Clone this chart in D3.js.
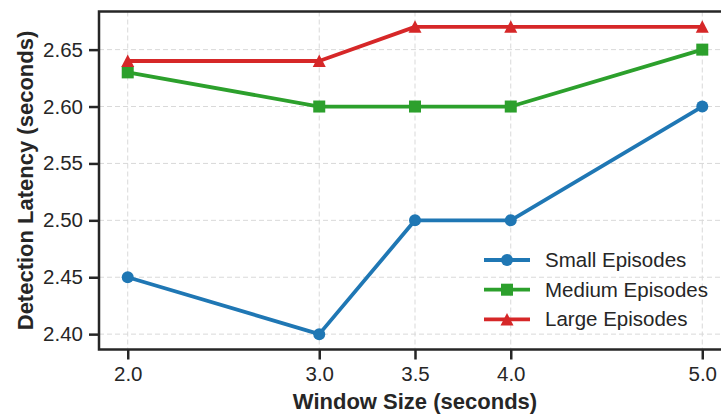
<!DOCTYPE html>
<html>
<head>
<meta charset="utf-8">
<script src="https://cdn.jsdelivr.net/npm/d3@7"></script>
<style>
  body { margin: 0; background: #fff; }
  text { font-family: "Liberation Sans", Arial, sans-serif; fill: #262626; }
</style>
</head>
<body>
<svg id="chart" width="721" height="414"></svg>
<script>
// data
const windowSizes = [2.0, 3.0, 3.5, 4.0, 5.0]
const smallEpisodes = [2.45, 2.40, 2.50, 2.50, 2.60]
const mediumEpisodes = [2.63, 2.60, 2.60, 2.60, 2.65]
const largeEpisodes = [2.64, 2.64, 2.67, 2.67, 2.67]
const yTicks = [2.40, 2.45, 2.50, 2.55, 2.60, 2.65]
const xTicks = [2.0, 3.0, 3.5, 4.0, 5.0]

const series = [
    { name: "Small Episodes", values: smallEpisodes, color: "#1f77b4", marker: "circle" },
    { name: "Medium Episodes", values: mediumEpisodes, color: "#2ca02c", marker: "square" },
    { name: "Large Episodes", values: largeEpisodes, color: "#d62728", marker: "triangle" }
]

var svg = d3.select("#chart")

var plotLeft = 99, plotRight = 731, plotTop = 11.5, plotBottom = 349.5

var x = d3.scaleLinear().domain([1.85, 5.15]).range([plotLeft, plotRight])
var y = d3.scaleLinear().domain([2.3865, 2.6835]).range([plotBottom, plotTop])

// grid
var grid = svg.append("g")
grid.selectAll(".gx").data(xTicks).enter().append("line")
    .attr("x1", d => x(d)).attr("x2", d => x(d))
    .attr("y1", plotTop).attr("y2", plotBottom)
    .attr("stroke", "#d9d9d9").attr("stroke-width", 1).attr("stroke-dasharray", "5,3")
grid.selectAll(".gy").data(yTicks).enter().append("line")
    .attr("x1", plotLeft).attr("x2", plotRight)
    .attr("y1", d => y(d)).attr("y2", d => y(d))
    .attr("stroke", "#d9d9d9").attr("stroke-width", 1).attr("stroke-dasharray", "5,3")

// axes
var xAxis = svg.append("g")
    .attr("transform", "translate(0," + plotBottom + ")")
    .call(d3.axisBottom(x).tickValues(xTicks).tickFormat(d3.format(".1f")).tickSizeOuter(0).tickSize(10).tickPadding(7))
var yAxis = svg.append("g")
    .attr("transform", "translate(" + plotLeft + ",0)")
    .call(d3.axisLeft(y).tickValues(yTicks).tickFormat(d3.format(".2f")).tickSizeOuter(0).tickSize(10).tickPadding(6))

;[xAxis, yAxis].forEach(a => {
    a.select(".domain").remove()
    a.selectAll(".tick line").attr("stroke", "#262626").attr("stroke-width", 2.5)
    a.selectAll(".tick text").attr("font-size", 20.5).attr("fill", "#262626")
        .style("font-family", "'Liberation Sans', Arial, sans-serif")
})

// spines
svg.append("rect")
    .attr("x", plotLeft).attr("y", plotTop)
    .attr("width", plotRight - plotLeft).attr("height", plotBottom - plotTop)
    .attr("fill", "none").attr("stroke", "#262626").attr("stroke-width", 2.5)

// lines and markers
var line = d3.line()
    .x((d, i) => x(windowSizes[i]))
    .y(d => y(d))

function drawMarker(g, type, cx, cy, color) {
    if (type == "circle") {
        g.append("circle").attr("cx", cx).attr("cy", cy).attr("r", 6).attr("fill", color)
    } else if (type == "square") {
        g.append("rect").attr("x", cx - 6).attr("y", cy - 6).attr("width", 12).attr("height", 12).attr("fill", color)
    } else {
        g.append("path")
            .attr("d", "M" + cx + "," + (cy - 6.5) + "L" + (cx - 6.5) + "," + (cy + 6) + "L" + (cx + 6.5) + "," + (cy + 6) + "Z")
            .attr("fill", color)
    }
}

series.forEach(s => {
    var g = svg.append("g")
    g.append("path")
        .datum(s.values)
        .attr("d", line)
        .attr("fill", "none")
        .attr("stroke", s.color)
        .attr("stroke-width", 3.8)
        .attr("stroke-linejoin", "round")
    s.values.forEach((v, i) => drawMarker(g, s.marker, x(windowSizes[i]), y(v), s.color))
})

// axis labels
svg.append("text")
    .attr("x", 415).attr("y", 409)
    .attr("text-anchor", "middle")
    .attr("font-size", 22).attr("font-weight", "bold")
    .text("Window Size (seconds)")

svg.append("text")
    .attr("transform", "translate(25," + ((plotTop + plotBottom) / 2) + ") rotate(-90)")
    .attr("text-anchor", "middle")
    .attr("dy", "0.35em")
    .attr("font-size", 22).attr("font-weight", "bold")
    .text("Detection Latency (seconds)")

// legend
var legend = svg.append("g")
series.forEach((s, i) => {
    var ly = 260 + i * 29.7
    legend.append("line")
        .attr("x1", 484).attr("x2", 530).attr("y1", ly).attr("y2", ly)
        .attr("stroke", s.color).attr("stroke-width", 3.8)
    drawMarker(legend, s.marker, 507, ly, s.color)
    legend.append("text")
        .attr("x", 545).attr("y", ly + 7)
        .attr("font-size", 20.5)
        .text(s.name)
})
</script>
</body>
</html>
